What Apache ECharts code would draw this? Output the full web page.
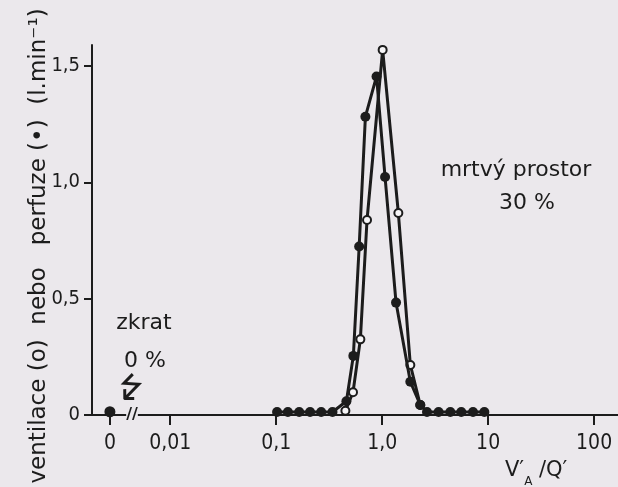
<!DOCTYPE html>
<html>
<head>
<meta charset="utf-8">
<script src="https://cdn.jsdelivr.net/npm/echarts@6/dist/echarts.min.js"></script>
<style>
  html, body { margin: 0; padding: 0; background: #ebe8ec; }
  #main { width: 618px; height: 487px; }
</style>
</head>
<body>
<div id="main"></div>
<script>
// V'A/Q' (log osa) a prutok (l.min-1)
const ventX = [0.450, 0.531, 0.623, 0.720, 1.011, 1.422, 1.845, 2.29];
const ventY = [0.018, 0.098, 0.325, 0.838, 1.569, 0.868, 0.215, 0.043];

const perfX = [0.102, 0.129, 0.165, 0.209, 0.266, 0.340,
  0.460, 0.535, 0.607, 0.695, 0.885, 1.065, 1.352, 1.845, 2.29,
  2.65, 3.41, 4.40, 5.58, 7.20, 9.21];
const perfY = [0.013, 0.013, 0.013, 0.013, 0.013, 0.013,
  0.059, 0.254, 0.724, 1.282, 1.455, 1.023, 0.483, 0.143, 0.043,
  0.013, 0.013, 0.013, 0.013, 0.013, 0.013];

// zkrat (V/Q = 0)
const shuntX = [0.0027];
const shuntY = [0.014];

const xTicks = [0.0027, 0.01, 0.1, 1, 10, 100];
const xTickLabels = ['0', '0,01', '0,1', '1,0', '10', '100'];
const yTicks = [0, 0.5, 1, 1.5];
const yTickLabels = ['0', '0,5', '1,0', '1,5'];

const ink = '#1c1c1c';
const bg = '#ebe8ec';
const zip = (xs, ys) => xs.map((x, i) => [x, ys[i]]);
const nearest = (arr, v, f) => {
  let best = 0;
  arr.forEach((a, i) => { if (Math.abs(f(a) - f(v)) < Math.abs(f(arr[best]) - f(v))) best = i; });
  return best;
};

const chart = echarts.init(document.getElementById('main'));

const option = {
  backgroundColor: bg,
  animation: false,
  grid: { left: 92, top: 45, bottom: 72, right: 0 },
  xAxis: {
    type: 'log',
    logBase: 10,
    min: 0.00183,
    max: 168,
    axisLine: { lineStyle: { color: ink, width: 2 } },
    axisTick: { customValues: xTicks, length: 10, lineStyle: { color: ink, width: 2 } },
    axisLabel: {
      customValues: xTicks,
      margin: 18,
      color: ink,
      fontFamily: 'DejaVu Sans Condensed',
      fontSize: 21,
      formatter: v => xTickLabels[nearest(xTicks, v, Math.log10)]
    },
    splitLine: { show: false },
    minorTick: { show: false }
  },
  yAxis: {
    type: 'value',
    min: 0,
    max: 1.59,
    name: 'ventilace (o)  nebo   perfuze (•)  (l.min⁻¹)',
    nameLocation: 'middle',
    nameRotate: 90,
    nameGap: 41,
    nameMoveOverlap: false,
    nameTextStyle: { color: ink, fontFamily: 'DejaVu Sans', fontSize: 23, padding: [0, 32, 0, 0] },
    axisLine: { lineStyle: { color: ink, width: 2 } },
    axisTick: { customValues: yTicks, length: 8, lineStyle: { color: ink, width: 2 } },
    axisLabel: {
      customValues: yTicks,
      margin: 12,
      color: ink,
      fontFamily: 'DejaVu Sans Condensed',
      fontSize: 20,
      formatter: v => yTickLabels[nearest(yTicks, v, a => a)]
    },
    splitLine: { show: false }
  },
  series: [
    {
      name: 'ventilace',
      type: 'line',
      data: zip(ventX, ventY),
      symbol: 'circle',
      symbolSize: 8,
      lineStyle: { color: ink, width: 3 },
      itemStyle: { color: '#f6f5f7', borderColor: ink, borderWidth: 2 },
      z: 2
    },
    {
      name: 'perfuze',
      type: 'line',
      data: zip(perfX, perfY),
      symbol: 'circle',
      symbolSize: 10,
      lineStyle: { color: ink, width: 3 },
      itemStyle: { color: ink },
      z: 3
    },
    {
      name: 'zkrat',
      type: 'scatter',
      data: zip(shuntX, shuntY),
      symbol: 'circle',
      symbolSize: 11,
      itemStyle: { color: ink, opacity: 1 },
      z: 3
    }
  ],
  graphic: [
    { type: 'text', x: 144, y: 323, style: { text: 'zkrat', fill: ink, font: '22px "DejaVu Sans"', textAlign: 'center', textVerticalAlign: 'middle' } },
    { type: 'text', x: 145, y: 361, style: { text: '0 %', fill: ink, font: '22px "DejaVu Sans"', textAlign: 'center', textVerticalAlign: 'middle' } },
    { type: 'text', x: 128, y: 391, rotation: -0.6, style: { text: '↯', fill: ink, font: '36px "DejaVu Sans"', textAlign: 'center', textVerticalAlign: 'middle' } },
    { type: 'text', x: 516, y: 170, style: { text: 'mrtvý prostor', fill: ink, font: '22px "DejaVu Sans"', textAlign: 'center', textVerticalAlign: 'middle' } },
    { type: 'text', x: 527, y: 203, style: { text: '30 %', fill: ink, font: '22px "DejaVu Sans"', textAlign: 'center', textVerticalAlign: 'middle' } },
    { type: 'text', x: 132, y: 415, z: 10, style: { text: '//', fill: ink, font: 'bold 16px "DejaVu Sans"', textAlign: 'center', textVerticalAlign: 'middle', backgroundColor: bg } },
    {
      type: 'text', x: 505, y: 460,
      style: {
        text: '{v|V′}{s|A}{n| /Q′}',
        fill: ink,
        rich: {
          v: { fontFamily: 'DejaVu Sans', fontSize: 21, lineHeight: 22, verticalAlign: 'top', color: ink },
          s: { fontFamily: 'DejaVu Sans', fontSize: 12, lineHeight: 12, padding: [16, 0, 0, 0], verticalAlign: 'top', color: ink },
          n: { fontFamily: 'DejaVu Sans', fontSize: 21, lineHeight: 22, verticalAlign: 'top', color: ink }
        }
      }
    }
  ]
};

chart.setOption(option);
window.addEventListener('resize', () => chart.resize());
</script>
</body>
</html>
